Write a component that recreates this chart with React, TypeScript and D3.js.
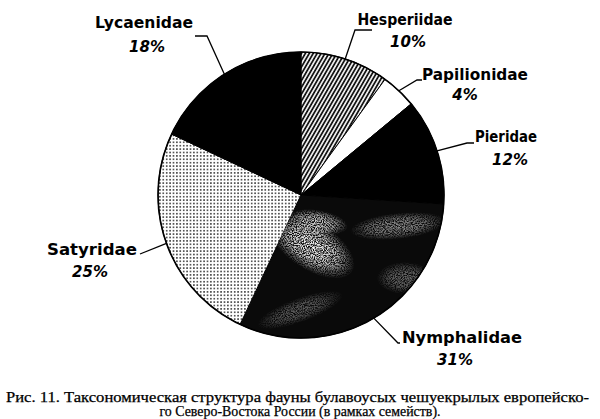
import * as d3 from 'd3';

// Families, clockwise from 12 o'clock
const families = ['Hesperiidae', 'Papilionidae', 'Pieridae', 'Nymphalidae', 'Satyridae', 'Lycaenidae'];
const shares = [10, 4, 12, 31, 25, 18];
const fills = ['url(#hatch)', '#fff', '#000', '#0a0a0a', 'url(#dots)', '#000'];

const captionLines = [
  'Рис. 11. Таксономическая структура фауны булавоусых чешуекрылых европейско-',
  'го Северо-Востока России (в рамках семейств).',
];

// label placement: elbow of the leader, end of the leader, name anchor, name width, percent anchor
const labelLayout: Record<string, { elbow: [number, number]; end: [number, number]; name: [number, number]; w: number; pct: [number, number] }> = {
  Hesperiidae: { elbow: [355, 30], end: [372, 30], name: [405, 25], w: 95, pct: [408, 47] },
  Papilionidae: { elbow: [417, 80], end: [422, 80], name: [475, 80], w: 106, pct: [465, 100] },
  Pieridae: { elbow: [467, 143], end: [474, 143], name: [506, 142], w: 62, pct: [510, 165] },
  Nymphalidae: { elbow: [398, 343], end: [400, 343], name: [462, 343], w: 120, pct: [455, 365] },
  Satyridae: { elbow: [140, 254], end: [140, 254], name: [92, 255], w: 90, pct: [90, 277] },
  Lycaenidae: { elbow: [207, 36], end: [195, 36], name: [144, 28], w: 98, pct: [147, 52] },
};

const W = 600;
const H = 419;
const cx = 301;
const cy = 195;
const R = 143;

const labelFont = '"DejaVu Sans", sans-serif';
const captionFont = '"Liberation Serif", "Times New Roman", serif';

export default function App() {
  const rows = families.map((name, i) => ({ name, value: shares[i], fill: fills[i] }));
  const pie = d3
    .pie<{ name: string; value: number; fill: string }>()
    .value((d) => d.value)
    .sort(null);
  const arcs = pie(rows);
  const arc = d3.arc<d3.PieArcDatum<{ name: string; value: number; fill: string }>>().innerRadius(0).outerRadius(R);

  const nymph = arcs.find((a) => a.data.name === 'Nymphalidae')!;

  return (
    <svg
      width={W}
      height={H}
      viewBox={`0 0 ${W} ${H}`}
      style={{ position: 'absolute', left: 0, top: 0, background: '#fff' }}
    >
      <defs>
        <pattern id="hatch" patternUnits="userSpaceOnUse" width={3.4} height={3.4} patternTransform="rotate(30)">
          <rect width={3.4} height={3.4} fill="#fff" />
          <line x1={1} y1={0} x2={1} y2={3.4} stroke="#000" strokeWidth={1.7} />
        </pattern>
        <pattern id="dots" patternUnits="userSpaceOnUse" width={3.4} height={3.4}>
          <rect width={3.4} height={3.4} fill="#fff" />
          <circle cx={1.7} cy={1.7} r={0.75} fill="#000" />
        </pattern>
        <clipPath id="nymphClip">
          <path d={arc(nymph) || ''} transform={`translate(${cx},${cy})`} />
        </clipPath>
        <radialGradient id="glow">
          <stop offset="0%" stopColor="#fff" stopOpacity={1} />
          <stop offset="55%" stopColor="#fff" stopOpacity={0.75} />
          <stop offset="100%" stopColor="#fff" stopOpacity={0} />
        </radialGradient>
        <filter id="speck" x="0" y="0" width="1" height="1">
          <feTurbulence type="fractalNoise" baseFrequency="0.9" numOctaves={2} seed={7} result="n" />
          <feColorMatrix
            in="n"
            type="matrix"
            values="0 0 0 0 1  0 0 0 0 1  0 0 0 0 1  3.2 0 0 0 -1.05"
            result="m"
          />
          <feComposite in="m" in2="SourceGraphic" operator="in" />
        </filter>
      </defs>

      <g transform={`translate(${cx},${cy})`}>
        {arcs.map((a) => (
          <path key={a.data.name} d={arc(a) || ''} fill={a.data.fill} stroke="#000" strokeWidth={1} />
        ))}
      </g>

      {/* mottled print texture of the Nymphalidae slice */}
      <g clipPath="url(#nymphClip)">
        <g filter="url(#speck)">
          <ellipse cx={312} cy={246} rx={48} ry={24} fill="url(#glow)" transform="rotate(32 312 246)" />
          <ellipse cx={318} cy={222} rx={30} ry={12} fill="url(#glow)" opacity={0.8} transform="rotate(10 318 222)" />
          <ellipse cx={398} cy={226} rx={48} ry={13} fill="url(#glow)" opacity={0.55} transform="rotate(-6 398 226)" />
          <ellipse cx={300} cy={310} rx={45} ry={12} fill="url(#glow)" opacity={0.35} transform="rotate(-20 300 310)" />
          <ellipse cx={405} cy={278} rx={28} ry={16} fill="url(#glow)" opacity={0.4} />
        </g>
      </g>

      <circle cx={cx} cy={cy} r={R} fill="none" stroke="#000" strokeWidth={1.6} />

      {arcs.map((a) => {
        const L = labelLayout[a.data.name];
        const mid = (a.startAngle + a.endAngle) / 2;
        const px = cx + R * Math.sin(mid);
        const py = cy - R * Math.cos(mid);
        return (
          <g key={a.data.name}>
            <polyline
              points={`${px},${py} ${L.elbow[0]},${L.elbow[1]} ${L.end[0]},${L.end[1]}`}
              fill="none"
              stroke="#000"
              strokeWidth={1.3}
            />
            <text
              x={L.name[0]}
              y={L.name[1]}
              textAnchor="middle"
              fontFamily={labelFont}
              fontSize={15}
              fontWeight="bold"
              textLength={L.w}
              lengthAdjust="spacingAndGlyphs"
            >
              {a.data.name}
            </text>
            <text
              x={L.pct[0]}
              y={L.pct[1]}
              textAnchor="middle"
              fontFamily={labelFont}
              fontSize={15}
              fontWeight="bold"
              fontStyle="italic"
            >
              {a.data.value}%
            </text>
          </g>
        );
      })}

      <text
        x={6}
        y={402}
        fontFamily={captionFont}
        fontSize={14}
        textLength={583}
        lengthAdjust="spacingAndGlyphs"
        stroke="#000"
        strokeWidth={0.25}
      >
        {captionLines[0]}
      </text>
      <text
        x={300}
        y={416}
        textAnchor="middle"
        fontFamily={captionFont}
        fontSize={14}
        textLength={281}
        lengthAdjust="spacingAndGlyphs"
        stroke="#000"
        strokeWidth={0.25}
      >
        {captionLines[1]}
      </text>
    </svg>
  );
}
